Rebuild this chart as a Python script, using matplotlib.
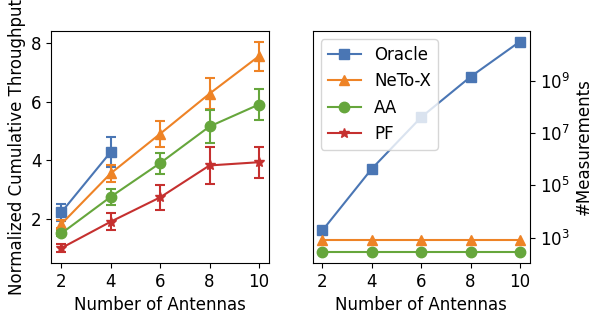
import numpy as np
import matplotlib
matplotlib.use("Agg")
import matplotlib.pyplot as plt

antennas = [2, 4, 6, 8, 10]
labels = ["Oracle", "NeTo-X", "AA", "PF"]

oracle_tp = [2.22, 4.28, np.nan, np.nan, np.nan]
oracle_err = [0.28, 0.5, np.nan, np.nan, np.nan]
neto_tp = [1.82, 3.55, 4.9, 6.27, 7.55]
neto_err = [0.15, 0.3, 0.45, 0.53, 0.5]
aa_tp = [1.5, 2.75, 3.9, 5.15, 5.9]
aa_err = [0.1, 0.28, 0.36, 0.55, 0.53]
pf_tp = [1.0, 1.9, 2.73, 3.82, 3.93]
pf_err = [0.15, 0.3, 0.42, 0.62, 0.53]

oracle_meas = [1.9e3, 4.3e5, 4.0e7, 1.4e9, 3.1e10]
neto_meas = [800, 800, 800, 800, 800]
aa_meas = [275, 275, 275, 275, 275]
pf_meas = [np.nan] * 5

colors = ["#4a76b4", "#ee8326", "#66a63c", "#c5302f"]
markers = ["s", "^", "o", "*"]

plt.rcParams["font.size"] = 12
fig = plt.figure(figsize=(5.89, 3.18), dpi=100)
ax1 = fig.add_axes([0.0874, 0.173, 0.369, 0.7296])
ax2 = fig.add_axes([0.5306, 0.173, 0.369, 0.7296])

tps = [oracle_tp, neto_tp, aa_tp, pf_tp]
errs = [oracle_err, neto_err, aa_err, pf_err]
for y, e, c, m in zip(tps, errs, colors, markers):
    ax1.errorbar(antennas, y, yerr=e, color=c, marker=m, markersize=7.5,
                 linewidth=1.5, capsize=3.5, elinewidth=1.5, capthick=1.5)
ax1.set_xlabel("Number of Antennas")
ax1.set_ylabel("Normalized Cumulative Throughput")
ax1.set_xticks(antennas)
ax1.set_yticks([2, 4, 6, 8])

meas = [oracle_meas, neto_meas, aa_meas, pf_meas]
for y, c, m, l in zip(meas, colors, markers, labels):
    ax2.plot(antennas, y, color=c, marker=m, markersize=7.5, linewidth=1.5, label=l)
ax2.set_yscale("log")
ax2.set_xticks(antennas)
ax2.set_xlim(ax1.get_xlim())
ax2.set_yticks([1e3, 1e5, 1e7, 1e9])
ax2.minorticks_off()
ax2.yaxis.tick_right()
ax2.yaxis.set_label_position("right")
ax2.set_ylabel("#Measurements")
ax2.set_xlabel("Number of Antennas")
ax2.legend(loc="upper left", fontsize=12)

fig.savefig("out.png", dpi=100)
